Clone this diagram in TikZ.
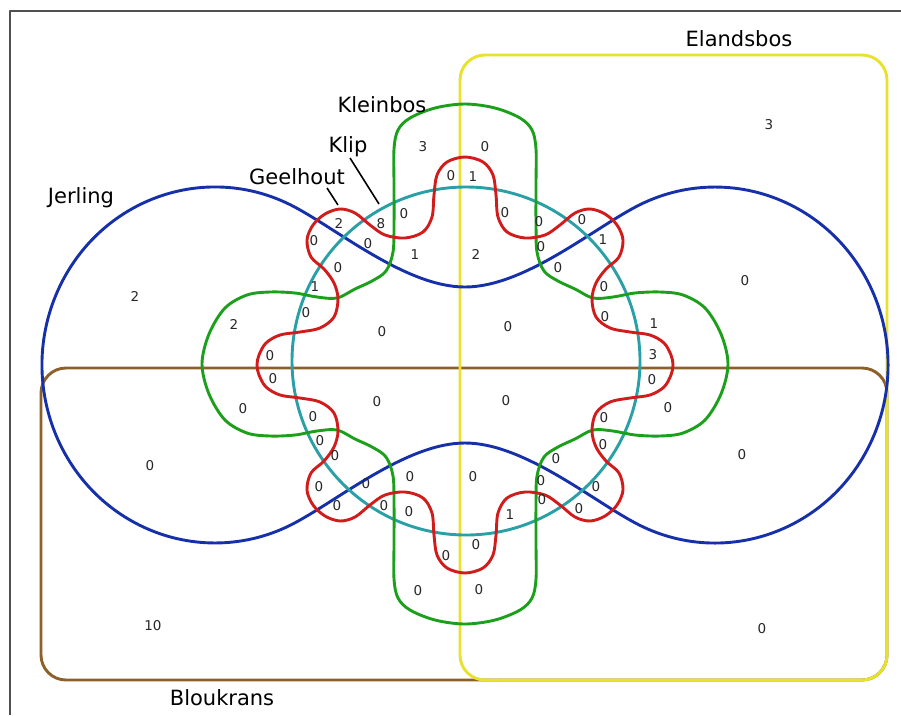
\documentclass[tikz,border=0pt]{standalone}
\usepackage{fontspec}
\setmainfont{DejaVu Sans}
\definecolor{jerlingblue}{RGB}{22,48,170}
\definecolor{circcyan}{RGB}{40,160,165}
\definecolor{kleingreen}{RGB}{28,160,28}
\definecolor{klipred}{RGB}{210,28,28}
\definecolor{elandyellow}{RGB}{232,226,44}
\definecolor{kransbrown}{RGB}{140,96,40}
\definecolor{framegray}{RGB}{80,80,80}
\begin{document}
\begin{tikzpicture}[x=1pt,y=-1pt,line join=round,
  setline/.style={line width=2.9pt},
  lab/.style={font=\fontsize{21}{24}\selectfont,text=black,inner sep=0pt},
  num/.style={font=\fontsize{13.5}{15}\selectfont,text=black!85,inner sep=0pt},
  pointer/.style={line width=1.6pt,black}]
\useasboundingbox (0,0) rectangle (901,715);
\fill[white] (0,0) rectangle (901,715);
% outer frame (left and top edges)
\draw[framegray,line width=1.3pt] (10,715) -- (10,11) -- (901,11);

% Bloukrans and Elandsbos: rounded rectangles
\draw[kransbrown,setline,rounded corners=25pt] (41,368) rectangle (887,680);
\draw[elandyellow,setline,rounded corners=25pt] (460,55) rectangle (887,680);

% Jerling: two lobes joined by a waist
\draw[jerlingblue,setline] (465,287) .. controls (405,287) and (335,227) .. (290,204.6)
  arc[start angle=-64.3,end angle=-295.7,x radius=173,y radius=178]
  .. controls (335,503) and (405,443) .. (465,443)
  .. controls (525,443) and (595,503) .. (640,525.4)
  arc[start angle=115.7,end angle=-115.7,x radius=173,y radius=178]
  .. controls (595,227) and (525,287) .. (465,287) -- cycle;

% Geelhout: circle
\draw[circcyan,setline] (466,361) circle[radius=174];

% Kleinbos: four lobes
\begin{scope}[shift={(465,364)}]
\draw[kleingreen,setline] plot[smooth cycle,tension=0.55] coordinates {
 (0,-260) (-30,-256) (-55,-246) (-67,-234) (-71,-215) (-71,-180) (-71,-140) (-72,-112) (-79,-93) (-93,-83) (-110,-75) (-128,-66) (-148,-67) (-170,-71) (-195,-72) (-218,-69) (-240,-56) (-256,-30)
 (-263,0)
 (-256,30) (-240,56) (-218,69) (-195,72) (-170,71) (-148,67) (-128,66) (-110,75) (-93,83) (-79,93) (-72,112) (-71,140) (-71,180) (-71,215) (-67,234) (-55,246) (-30,256)
 (0,260)
 (30,256) (55,246) (67,234) (71,215) (71,180) (71,140) (72,112) (79,93) (93,83) (110,75) (128,66) (148,67) (170,71) (195,72) (218,69) (240,56) (256,30)
 (263,0)
 (256,-30) (240,-56) (218,-69) (195,-72) (170,-71) (148,-67) (128,-66) (110,-75) (93,-83) (79,-93) (72,-112) (71,-140) (71,-180) (71,-215) (67,-234) (55,-246) (30,-256)
};
\end{scope}

% Klip: wavy ring around the circle
\begin{scope}[shift={(465,365)}]
\draw[klipred,setline] plot[smooth cycle,tension=0.55] coordinates {
 (0,-208) (-18,-203) (-28,-190) (-31,-170) (-33,-148) (-42,-133) (-60,-127) (-80,-130) (-95,-140) (-110,-152) (-125,-156) (-140,-151) (-152,-140) (-158,-125) (-154,-108) (-141,-96) (-131,-82) (-127,-66) (-131,-48) (-145,-37) (-165,-33) (-185,-30) (-199,-22) (-206,-10)
 (-208,0)
 (-206,10) (-199,22) (-185,30) (-165,33) (-145,37) (-131,48) (-127,66) (-131,82) (-141,96) (-154,108) (-158,125) (-152,140) (-140,151) (-125,156) (-110,152) (-95,140) (-80,130) (-60,127) (-42,133) (-33,148) (-31,170) (-28,190) (-18,203)
 (0,208)
 (18,203) (28,190) (31,170) (33,148) (42,133) (60,127) (80,130) (95,140) (110,152) (125,156) (140,151) (152,140) (158,125) (154,108) (141,96) (131,82) (127,66) (131,48) (145,37) (165,33) (185,30) (199,22) (206,10)
 (208,0)
 (206,-10) (199,-22) (185,-30) (165,-33) (145,-37) (131,-48) (127,-66) (131,-82) (141,-96) (154,-108) (158,-125) (152,-140) (140,-151) (125,-156) (110,-152) (95,-140) (80,-130) (60,-127) (42,-133) (33,-148) (31,-170) (28,-190) (18,-203)
};
\end{scope}

% set names
\node[lab,anchor=base] (jerling) at (81,203) {Jerling};
\node[lab,anchor=base] (geelhout) at (297,184) {Geelhout};
\node[lab,anchor=base] (klip) at (348,152) {Klip};
\node[lab,anchor=base] (kleinbos) at (382,112) {Kleinbos};
\node[lab,anchor=base] (elandsbos) at (739,46) {Elandsbos};
\node[lab,anchor=base] (bloukrans) at (222,705) {Bloukrans};

% pointer lines from names to their curves
\coordinate (geelfrom) at (327,188);
\coordinate (geelto) at (338,205);
\coordinate (klipfrom) at (350,158);
\coordinate (klipto) at (379,204);
\draw[pointer] (geelfrom) -- (geelto);
\draw[pointer] (klipfrom) -- (klipto);

% region counts
\foreach \px/\py/\t [count=\i] in {
 135/296/2, 150/466/0, 153/626/10, 769/125/3, 745/281/0, 742/455/0, 762/629/0,
 234/324/2, 243/409/0, 270/356/0, 273/379/0, 306/313/0, 315/287/1, 313/417/0, 320/441/0, 335/456/0,
 339/223/2, 381/224/8, 314/241/0, 368/244/0, 338/268/0, 404/214/0, 415/255/1, 451/176/0, 423/147/3,
 485/147/0, 473/177/1, 476/254/2, 505/213/0, 539/222/0, 582/220/0, 541/247/0, 603/240/1, 558/268/0, 604/287/0, 605/317/0,
 654/324/1, 653/355/3, 652/380/0, 668/408/0, 604/418/0, 603/445/0,
 382/332/0, 508/327/0, 377/402/0, 506/401/0,
 556/459/0, 473/477/0, 541/481/0, 596/487/0, 542/500/0, 579/509/0, 510/515/1, 476/545/0,
 319/487/0, 366/484/0, 410/477/0, 337/506/0, 384/506/0, 409/512/0, 446/556/0, 418/591/0, 479/590/0}
 \node[num] (n\i) at (\px,\py) {\t};
\end{tikzpicture}
\end{document}
